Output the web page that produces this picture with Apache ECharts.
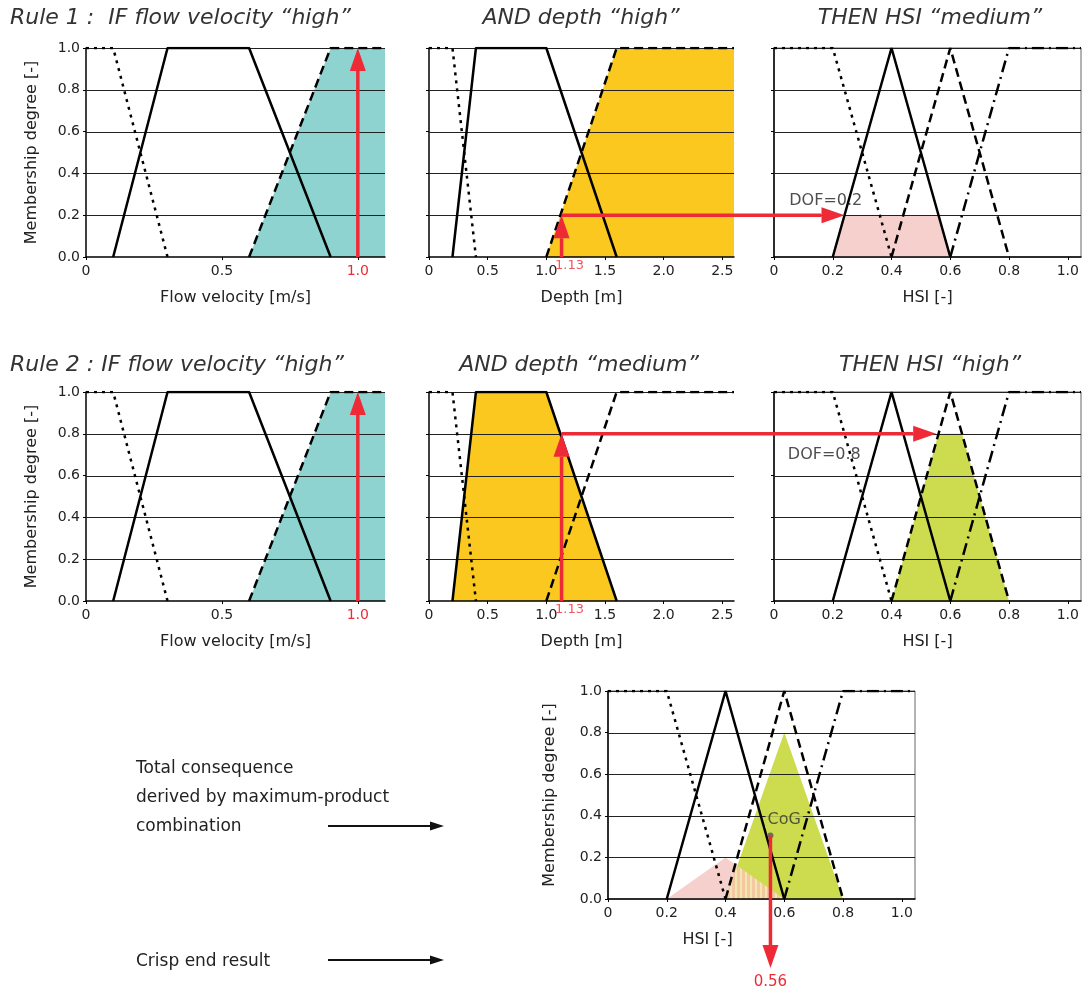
<!DOCTYPE html>
<html>
<head>
<meta charset="utf-8">
<script src="https://cdn.jsdelivr.net/npm/echarts@6/dist/echarts.min.js"></script>
<style>
  html, body { margin: 0; padding: 0; background: #fff; }
  #main { width: 1082px; height: 996px; }
</style>
</head>
<body>
<div id="main"></div>
<script>
// membership functions (x, degree)
const velLow = [[0, 1], [0.1, 1], [0.3, 0]];
const velMedium = [[0.1, 0], [0.3, 1], [0.6, 1], [0.9, 0]];
const velHigh = [[0.6, 0], [0.9, 1], [1.1, 1]];

const depthLow = [[0, 1], [0.2, 1], [0.4, 0]];
const depthMedium = [[0.2, 0], [0.4, 1], [1.0, 1], [1.6, 0]];
const depthHigh = [[1.0, 0], [1.6, 1], [2.6, 1]];

const hsiLow = [[0, 1], [0.2, 1], [0.4, 0]];
const hsiMedium = [[0.2, 0], [0.4, 1], [0.6, 0]];
const hsiHigh = [[0.4, 0], [0.6, 1], [0.8, 0]];
const hsiVeryHigh = [[0.6, 0], [0.8, 1], [1.045, 1]];

// consequences
const rule1Cut = [[0.2, 0], [0.24, 0.2], [0.56, 0.2], [0.6, 0]];
const rule2Cut = [[0.4, 0], [0.56, 0.8], [0.64, 0.8], [0.8, 0]];
const prodMedium = [[0.2, 0], [0.4, 0.2], [0.6, 0]];
const prodHigh = [[0.4, 0], [0.6, 0.8], [0.8, 0]];
const prodOverlap = [[0.4, 0], [0.44, 0.16], [0.6, 0]];

// inputs and results
const inputVelocity = 1.0;
const inputDepth = 1.13;
const dof = [0.2, 0.8];
const dofTarget = [0.24, 0.552];
const cog = [0.553, 0.305];
const crispLabel = '0.56';

// axes
const xMax = [1.1, 2.6, 1.045, 1.1, 2.6, 1.045, 1.045];
const yGridValues = [0.2, 0.4, 0.6, 0.8, 1.0];

const titles = [
  ['Rule 1 :  IF flow velocity “high”', 10, 18, 'left'],
  ['AND depth “high”', 581, 18, 'center'],
  ['THEN HSI “medium”', 930, 18, 'center'],
  ['Rule 2 : IF flow velocity “high”', 10, 365, 'left'],
  ['AND depth “medium”', 579, 365, 'center'],
  ['THEN HSI “high”', 930, 365, 'center']
];

const FONT = 'DejaVu Sans';
const RED = '#ee2a36';

const grids = [
  { left: 86, top: 48, width: 299, height: 209 },
  { left: 429, top: 48, width: 305, height: 209 },
  { left: 774, top: 48, width: 307, height: 209, show: true, borderColor: '#666', borderWidth: 1 },
  { left: 86, top: 392, width: 299, height: 209 },
  { left: 429, top: 392, width: 305, height: 209 },
  { left: 774, top: 392, width: 307, height: 209, show: true, borderColor: '#666', borderWidth: 1 },
  { left: 608, top: 691, width: 307, height: 208, show: true, borderColor: '#666', borderWidth: 1 }
];

function fmt(red) {
  return function (v) {
    const s = v === 0 ? '0' : v.toFixed(1);
    return (red !== null && Math.abs(v - red) < 1e-9) ? '{r|' + s + '}' : s;
  };
}

function xAxis(i, interval, name, red, shift) {
  return {
    type: 'value', gridIndex: i, min: 0, max: xMax[i], interval: interval, zlevel: 1,
    name: name, nameLocation: 'middle', nameGap: 33,
    nameTextStyle: { fontFamily: FONT, fontSize: 16, color: '#222', padding: [0, shift || 0, 0, 0] },
    axisLine: { lineStyle: { color: '#000', width: 1.5 } },
    axisTick: { show: true, length: 3, lineStyle: { color: '#000' } },
    splitLine: { show: false },
    axisLabel: {
      showMaxLabel: false, margin: 7, fontFamily: FONT, fontSize: 14, color: '#222',
      formatter: fmt(red), rich: { r: { color: RED, fontFamily: FONT, fontSize: 14 } }
    }
  };
}

// grid lines are drawn separately (above the filled areas), see below
function yAxis(i, labelled, gap) {
  return {
    type: 'value', gridIndex: i, min: 0, max: 1, interval: 0.2, zlevel: 1,
    name: labelled ? 'Membership degree [-]' : '', nameLocation: 'middle', nameGap: gap || 46,
    nameTextStyle: { fontFamily: FONT, fontSize: 16, color: '#222' },
    axisLine: { show: true, lineStyle: { color: '#000', width: 1.5 } },
    axisTick: { show: true, length: 3, lineStyle: { color: '#000' } },
    splitLine: { show: false },
    axisLabel: { show: labelled, margin: 6, fontFamily: FONT, fontSize: 14, color: '#222',
      formatter: function (v) { return v.toFixed(1); } }
  };
}

const DOT = [3, 5], DASH = [9, 5], DASHDOT = [12, 5, 2, 5];

function fn(i, data, type) {
  return {
    type: 'line', xAxisIndex: i, yAxisIndex: i, data: data, symbol: 'none', silent: true,
    zlevel: 1, z: 3,
    lineStyle: { color: '#000', width: 2.5, type: type }
  };
}

function fill(i, data, color) {
  return {
    type: 'line', xAxisIndex: i, yAxisIndex: i, data: data, symbol: 'none', silent: true,
    zlevel: 0, z: 1,
    lineStyle: { width: 0 }, areaStyle: { color: color, opacity: 1 }
  };
}

function note(i, pt, text, opts) {
  return {
    type: 'scatter', xAxisIndex: i, yAxisIndex: i, data: [pt], symbolSize: 0, silent: true,
    zlevel: 1, z: 6,
    label: Object.assign({ show: true, formatter: text, fontFamily: FONT, fontSize: 16, color: '#222' }, opts)
  };
}

// hatch pattern for the overlap of both consequences
const hatch = document.createElement('canvas');
hatch.width = 5; hatch.height = 4;
const hctx = hatch.getContext('2d');
hctx.fillStyle = '#f4c8a0'; hctx.fillRect(0, 0, 5, 4);
hctx.fillStyle = '#f3e6b0'; hctx.fillRect(0, 0, 2, 4);

const series = [];
[0, 3].forEach(function (g) {
  series.push(fill(g, velHigh, '#8ed3cf'));
  series.push(fn(g, velLow, DOT), fn(g, velMedium, 'solid'), fn(g, velHigh, DASH));
});
series.push(fill(1, depthHigh, '#fac81e'));
series.push(fill(4, depthMedium, '#fac81e'));
[1, 4].forEach(function (g) {
  series.push(fn(g, depthLow, DOT), fn(g, depthMedium, 'solid'), fn(g, depthHigh, DASH));
  series.push(note(g, [inputDepth, 0], String(inputDepth),
    { position: 'bottom', distance: 2, offset: [8, 0], fontSize: 13, color: RED }));
});
series.push(fill(2, rule1Cut, '#f6d0cd'));
series.push(fill(5, rule2Cut, '#cddc4f'));
series.push(fill(6, prodMedium, '#f6d0cd'));
series.push(fill(6, prodHigh, '#cddc4f'));
series.push(fill(6, prodOverlap, { image: hatch, repeat: 'repeat' }));
[2, 5, 6].forEach(function (g) {
  series.push(fn(g, hsiLow, DOT), fn(g, hsiMedium, 'solid'), fn(g, hsiHigh, DASH), fn(g, hsiVeryHigh, DASHDOT));
});
series.push(note(2, [0.035, 0.27], 'DOF=' + dof[0], { position: 'right' }));
series.push(note(5, [0.03, 0.7], 'DOF=' + dof[1], { position: 'right' }));
series.push(note(6, [0.6, 0.38], 'CoG',
  { position: 'inside', backgroundColor: '#cddc4f', padding: [0, 2], color: '#333' }));
series.push({
  type: 'scatter', xAxisIndex: 6, yAxisIndex: 6, data: [cog], symbolSize: 6, silent: true,
  zlevel: 1, z: 7, itemStyle: { color: '#555' }
});

const option = {
  animation: false,
  grid: grids,
  xAxis: [
    xAxis(0, 0.5, 'Flow velocity [m/s]', inputVelocity),
    xAxis(1, 0.5, 'Depth [m]', null),
    xAxis(2, 0.2, 'HSI [-]', null),
    xAxis(3, 0.5, 'Flow velocity [m/s]', inputVelocity),
    xAxis(4, 0.5, 'Depth [m]', null),
    xAxis(5, 0.2, 'HSI [-]', null),
    xAxis(6, 0.2, 'HSI [-]', null, 108)
  ],
  yAxis: [
    yAxis(0, true), yAxis(1, false), yAxis(2, false),
    yAxis(3, true), yAxis(4, false), yAxis(5, false),
    yAxis(6, true, 50)
  ],
  series: series
};

const chart = echarts.init(document.getElementById('main'));
chart.setOption(option);

function px(i, pt) {
  return chart.convertToPixel({ xAxisIndex: i, yAxisIndex: i }, pt);
}

function arrow(p0, p1, color, w, headL, headW) {
  const dx = p1[0] - p0[0], dy = p1[1] - p0[1];
  const L = Math.hypot(dx, dy), ux = dx / L, uy = dy / L;
  const bx = p1[0] - ux * headL, by = p1[1] - uy * headL;
  const nx = -uy, ny = ux;
  return [
    { type: 'line', zlevel: 1, z: 100, shape: { x1: p0[0], y1: p0[1], x2: bx, y2: by },
      style: { stroke: color, lineWidth: w } },
    { type: 'polygon', zlevel: 1, z: 101, shape: { points: [[p1[0], p1[1]],
      [bx + nx * headW / 2, by + ny * headW / 2], [bx - nx * headW / 2, by - ny * headW / 2]] },
      style: { fill: color } }
  ];
}

let graphic = [];

// horizontal grid lines, on the upper layer so they cross the filled areas
xMax.forEach(function (mx, g) {
  yGridValues.forEach(function (v) {
    const a = px(g, [0, v]), b = px(g, [mx, v]);
    const y = Math.round(a[1]) + 0.5;
    graphic.push({ type: 'line', zlevel: 1, z: 1, silent: true,
      shape: { x1: a[0], y1: y, x2: b[0], y2: y },
      style: { stroke: '#222', lineWidth: 1 } });
  });
});

titles.forEach(function (t) {
  graphic.push({ type: 'text', x: t[1], y: t[2], zlevel: 1, z: 50,
    style: { text: t[0], font: 'italic 22px "' + FONT + '"', fill: '#333', align: t[3], verticalAlign: 'middle' } });
});

// input arrows
[0, 3].forEach(function (g) {
  graphic = graphic.concat(arrow(px(g, [inputVelocity, 0]), px(g, [inputVelocity, 1]), RED, 3.5, 23, 16));
});
[[1, 2, 0], [4, 5, 1]].forEach(function (r) {
  const a = px(r[0], [inputDepth, 0]);
  const b = px(r[0], [inputDepth, dof[r[2]]]);
  graphic = graphic.concat(arrow(a, b, RED, 3.5, 23, 16));
  const c = px(r[1], [dofTarget[r[2]], dof[r[2]]]);
  graphic = graphic.concat(arrow(b, [c[0], b[1]], RED, 3.5, 23, 16));
});

// crisp result
const cp = px(6, cog);
const base = px(6, [cog[0], 0]);
graphic = graphic.concat(arrow(cp, [cp[0], base[1] + 69], RED, 3.5, 23, 16));
graphic.push({ type: 'text', x: cp[0], y: base[1] + 83, zlevel: 1, z: 50,
  style: { text: crispLabel, font: '15px "' + FONT + '"', fill: RED, align: 'center', verticalAlign: 'middle' } });

// side notes
graphic.push({ type: 'text', x: 136, y: 754, zlevel: 1, z: 50,
  style: { text: 'Total consequence\nderived by maximum-product\ncombination',
    font: '17px "' + FONT + '"', lineHeight: 29, fill: '#222', align: 'left', verticalAlign: 'top' } });
graphic.push({ type: 'text', x: 136, y: 962, zlevel: 1, z: 50,
  style: { text: 'Crisp end result', font: '17px "' + FONT + '"', fill: '#222', align: 'left', verticalAlign: 'middle' } });
graphic = graphic.concat(arrow([328, 826], [444, 826], '#111', 2, 14, 9));
graphic = graphic.concat(arrow([328, 960], [444, 960], '#111', 2, 14, 9));

chart.setOption({ graphic: graphic });
</script>
</body>
</html>
